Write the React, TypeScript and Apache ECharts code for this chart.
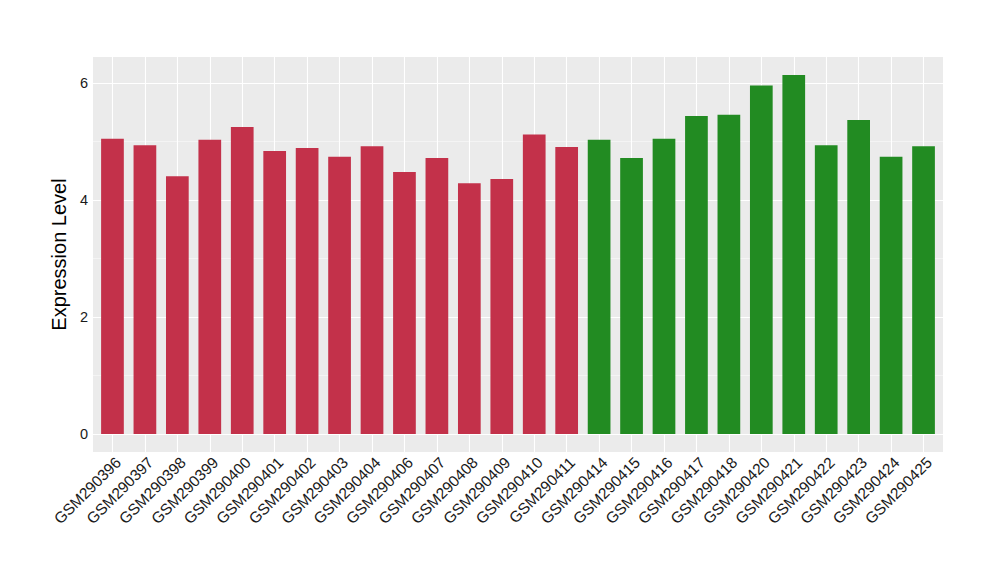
import React, { useEffect, useRef } from "react";
import * as echarts from "echarts";

const categories = [
  "GSM290396", "GSM290397", "GSM290398", "GSM290399", "GSM290400", "GSM290401",
  "GSM290402", "GSM290403", "GSM290404", "GSM290406", "GSM290407", "GSM290408",
  "GSM290409", "GSM290410", "GSM290411", "GSM290414", "GSM290415", "GSM290416",
  "GSM290417", "GSM290418", "GSM290420", "GSM290421", "GSM290422", "GSM290423",
  "GSM290424", "GSM290425",
];
const values = [
  5.05, 4.94, 4.41, 5.03, 5.25, 4.84, 4.89, 4.74, 4.92, 4.48, 4.72, 4.29,
  4.36, 5.12, 4.91, 5.03, 4.72, 5.05, 5.44, 5.46, 5.96, 6.14, 4.94, 5.37,
  4.74, 4.92,
];
const groupOf = [
  "a", "a", "a", "a", "a", "a", "a", "a", "a", "a", "a", "a", "a", "a", "a",
  "b", "b", "b", "b", "b", "b", "b", "b", "b", "b", "b",
];
const groupColors: Record<string, string> = { a: "#C3314A", b: "#228B22" };
const yTicks = [0, 2, 4, 6];
const yMinor = [1, 3, 5];
const yTitle = "Expression Level";

export default function App() {
  const ref = useRef<HTMLDivElement>(null);
  useEffect(() => {
    if (!ref.current) return;
    const chart = echarts.init(ref.current, null, { renderer: "svg" });
    const maxV = Math.max(...values);
    const pad = maxV * 0.05;
    const font = "'Liberation Sans', Arial, sans-serif";
    const idx = categories.map((_, i) => i);
    chart.setOption({
      animation: false,
      textStyle: { fontFamily: font },
      grid: {
        left: 93,
        right: 57,
        top: 57,
        bottom: 128,
        show: true,
        backgroundColor: "#EBEBEB",
        borderWidth: 0,
      },
      xAxis: {
        type: "value",
        min: -0.6,
        max: categories.length - 1 + 0.6,
        axisLine: { show: false },
        axisTick: { show: true, length: 4, customValues: idx, lineStyle: { color: "#333333" } },
        splitLine: { show: false },
        axisLabel: {
          customValues: idx,
          formatter: (v: number) => categories[Math.round(v)] ?? "",
          rotate: 45,
          verticalAlign: "top",
          color: "#1A1A1A",
          fontSize: 15.5,
          fontFamily: font,
          margin: 2,
        },
      },
      yAxis: {
        type: "value",
        min: -pad,
        max: maxV + pad,
        name: yTitle,
        nameLocation: "middle",
        nameGap: 15,
        nameTextStyle: { fontSize: 20, color: "#000000", fontFamily: font },
        axisLine: { show: false },
        axisTick: { show: true, length: 4, customValues: yTicks, lineStyle: { color: "#333333" } },
        axisLabel: {
          customValues: yTicks,
          color: "#1A1A1A",
          fontSize: 14.5,
          fontFamily: font,
          margin: 5,
        },
        splitLine: { show: false },
      },
      series: [
        {
          type: "bar",
          data: values.map((v, i) => ({ value: [i, v], itemStyle: { color: groupColors[groupOf[i]] } })),
          barWidth: "70%",
          markLine: {
            silent: true,
            symbol: "none",
            z: 1,
            label: { show: false },
            animation: false,
            data: [
              ...yMinor.map((t) => ({ yAxis: t, lineStyle: { color: "#FFFFFF", width: 0.55, type: "solid", opacity: 0.8 } })),
              ...yTicks.map((t) => ({ yAxis: t, lineStyle: { color: "#FFFFFF", width: 1.1, type: "solid" } })),
              ...idx.map((i) => ({ xAxis: i, lineStyle: { color: "#FFFFFF", width: 1.1, type: "solid" } })),
            ],
          },
        },
      ],
    });
    return () => chart.dispose();
  }, []);
  return <div ref={ref} style={{ width: 1000, height: 580, margin: -8 }} />;
}
